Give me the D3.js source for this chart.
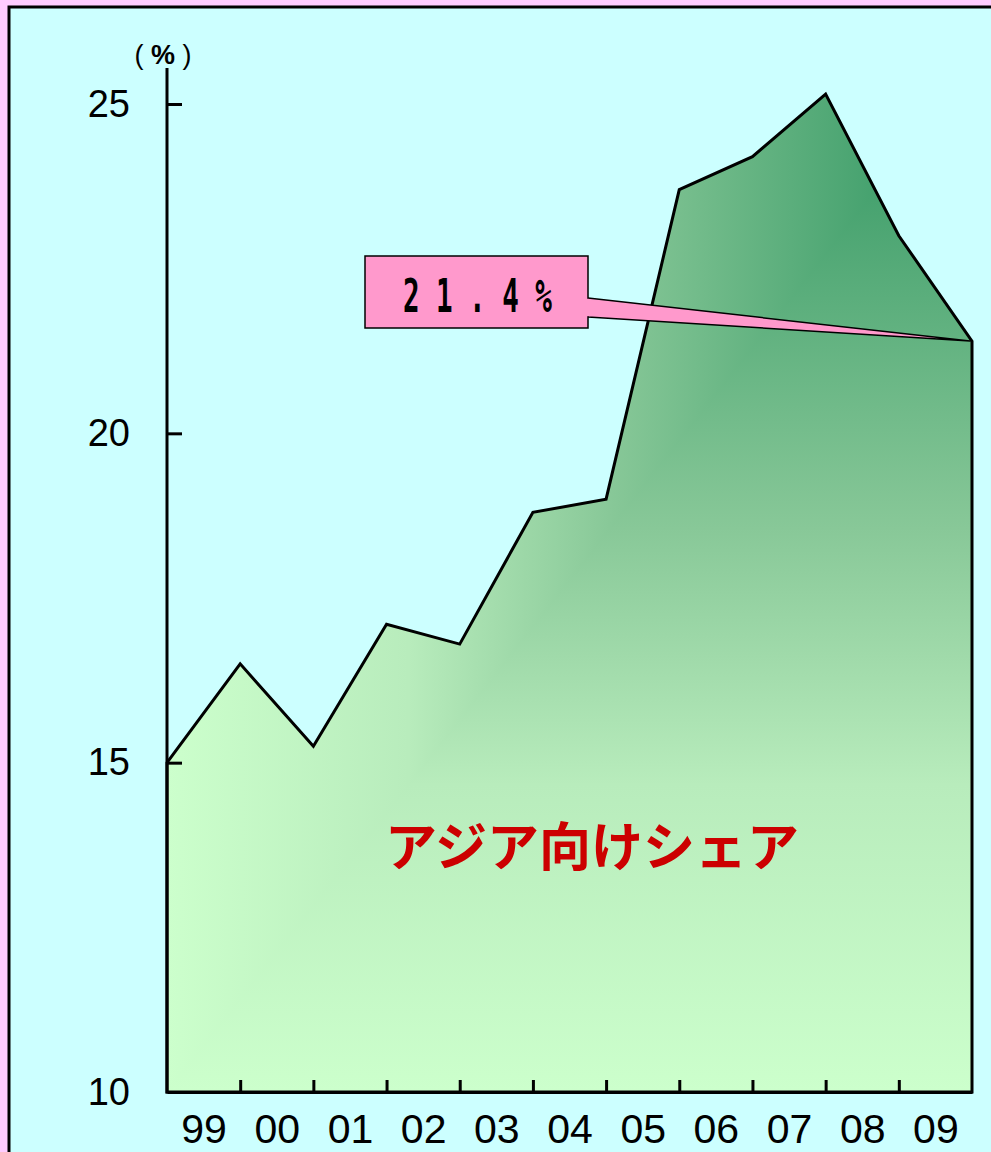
<!DOCTYPE html>
<html lang="ja">
<head>
<meta charset="UTF-8">
<title>アジア向けシェア</title>
<script src="https://d3js.org/d3.v7.min.js"></script>
<style>
  html, body { margin: 0; padding: 0; background: #ffccff; }
  svg { display: block; }
</style>
</head>
<body>
<svg width="991" height="1152"></svg>
<script>
    // data (share of exports to Asia, %)
    const shareValues = [15.0, 16.5, 15.25, 17.1, 16.8, 18.8, 19.0, 23.7, 24.2, 25.15, 23.0, 21.4];
    const yearLabels = ["99", "00", "01", "02", "03", "04", "05", "06", "07", "08", "09"];
    const yTicks = [10, 15, 20, 25];
    const calloutText = "21.4%";
    const seriesName = "アジア向けシェア";

    const svg = d3.select("svg");
    const width = 991, height = 1152;
    const plotLeft = 167, plotRight = 972, plotBottom = 1092, plotTop = 104;

    // frame
    svg.append("rect")
        .attr("x", 9).attr("y", 7)
        .attr("width", width).attr("height", height)
        .attr("fill", "#ccffff")
        .attr("stroke", "#000").attr("stroke-width", 3);

    const x = d3.scaleLinear().domain([0, shareValues.length - 1]).range([plotLeft, plotRight]);
    const y = d3.scaleLinear().domain([10, 25]).range([plotBottom, plotTop]);

    // gradient ("from corner" fill: dark top-right, light toward left and bottom)
    const defs = svg.append("defs");
    const stops = [[0, "#2e9460"], [0.45, "#88c898"], [0.7, "#b8ecbc"], [1, "#ccffcc"]];
    const hGrad = defs.append("linearGradient").attr("id", "hgrad")
        .attr("gradientUnits", "userSpaceOnUse")
        .attr("x1", plotRight).attr("y1", 0).attr("x2", plotLeft).attr("y2", 0);
    const vGrad = defs.append("linearGradient").attr("id", "vgrad")
        .attr("gradientUnits", "userSpaceOnUse")
        .attr("x1", 0).attr("y1", 68).attr("x2", 0).attr("y2", plotBottom);
    [hGrad, vGrad].forEach(g => g.selectAll("stop").data(stops).join("stop")
        .attr("offset", d => d[0]).attr("stop-color", d => d[1]));

    const area = d3.area()
        .x((d, i) => x(i))
        .y0(y(10))
        .y1(d => y(d));

    defs.append("clipPath").attr("id", "areaClip")
        .append("path").attr("d", area(shareValues));
    defs.append("clipPath").attr("id", "triClip")
        .append("path").attr("d", `M${plotRight},68L${plotRight},${plotBottom}L${plotLeft},${plotBottom}Z`);

    svg.append("path")
        .attr("d", area(shareValues))
        .attr("fill", "url(#hgrad)");
    svg.append("g").attr("clip-path", "url(#areaClip)")
        .append("rect")
        .attr("x", plotLeft).attr("y", 60)
        .attr("width", plotRight - plotLeft).attr("height", plotBottom - 60)
        .attr("clip-path", "url(#triClip)")
        .attr("fill", "url(#vgrad)");

    svg.append("path")
        .attr("d", area(shareValues))
        .attr("fill", "none")
        .attr("stroke", "#000")
        .attr("stroke-width", 3)
        .attr("stroke-linejoin", "miter");

    // y axis
    const yAxis = svg.append("g")
        .attr("transform", `translate(${plotLeft},0)`)
        .call(d3.axisLeft(y).tickValues(yTicks).tickSizeInner(-15).tickSizeOuter(0).tickPadding(37));
    yAxis.select(".domain").remove();
    yAxis.selectAll("line").attr("stroke", "#000").attr("stroke-width", 3);
    yAxis.selectAll("text")
        .attr("font-family", "Liberation Sans, Arial, sans-serif")
        .attr("font-size", 38)
        .attr("fill", "#000");
    yAxis.selectAll(".tick").filter(d => d === 10).select("line").remove();
    svg.append("line")
        .attr("x1", plotLeft).attr("x2", plotLeft)
        .attr("y1", 68).attr("y2", plotBottom + 1.5)
        .attr("stroke", "#000").attr("stroke-width", 3);

    const unit = svg.append("text")
        .attr("x", 163).attr("y", 64)
        .attr("text-anchor", "middle")
        .attr("font-family", "Liberation Sans, Arial, sans-serif")
        .attr("font-size", 27);
    unit.append("tspan").text("( ");
    unit.append("tspan").attr("font-weight", "bold").text("%");
    unit.append("tspan").text(" )");

    // x axis ticks at year boundaries
    const xAxis = svg.append("g")
        .attr("transform", `translate(0,${plotBottom})`)
        .call(d3.axisBottom(x).tickValues(d3.range(1, shareValues.length - 1))
            .tickSizeInner(-12).tickSizeOuter(0).tickFormat(""));
    xAxis.select(".domain").attr("stroke", "#000").attr("stroke-width", 3);
    xAxis.selectAll("line").attr("stroke", "#000").attr("stroke-width", 3);

    // x labels centred between boundaries
    const xLabels = svg.append("g")
        .attr("transform", `translate(0,${plotBottom})`)
        .call(d3.axisBottom(x).tickValues(yearLabels.map((d, i) => i + 0.5))
            .tickSize(0).tickPadding(22).tickFormat((d, i) => yearLabels[i]));
    xLabels.select(".domain").remove();
    xLabels.selectAll("text")
        .attr("font-family", "Liberation Sans, Arial, sans-serif")
        .attr("font-size", 41)
        .attr("fill", "#000");

    // series label
    svg.append("text")
        .attr("x", 592).attr("y", 866)
        .attr("text-anchor", "middle")
        .attr("font-family", "Noto Sans CJK JP, sans-serif")
        .attr("font-size", 52)
        .attr("font-weight", "bold")
        .attr("fill", "#cc0000")
        .text(seriesName);

    // callout for last value
    const last = shareValues.length - 1;
    const box = { x0: 365, x1: 588, y0: 256, y1: 328 };
    svg.append("path")
        .attr("d", `M${box.x1},298L${x(last) - 2},${y(shareValues[last])}L${box.x1},317Z`)
        .attr("fill", "#ff99cc")
        .attr("stroke", "#000")
        .attr("stroke-width", 1.5)
        .attr("stroke-linejoin", "round");
    svg.append("rect")
        .attr("x", box.x0).attr("y", box.y0)
        .attr("width", box.x1 - box.x0).attr("height", box.y1 - box.y0)
        .attr("fill", "#ff99cc")
        .attr("stroke", "#000")
        .attr("stroke-width", 1.5);
    svg.append("line")
        .attr("x1", box.x1).attr("x2", box.x1)
        .attr("y1", 298.8).attr("y2", 316.2)
        .attr("stroke", "#ff99cc").attr("stroke-width", 2.5);
    svg.append("text")
        .attr("transform", "translate(403,312) scale(0.6,1)")
        .attr("font-family", "DejaVu Sans Mono, monospace")
        .attr("font-size", 46)
        .attr("font-weight", "bold")
        .attr("textLength", 248)
        .attr("lengthAdjust", "spacing")
        .text(calloutText);
</script>
</body>
</html>
